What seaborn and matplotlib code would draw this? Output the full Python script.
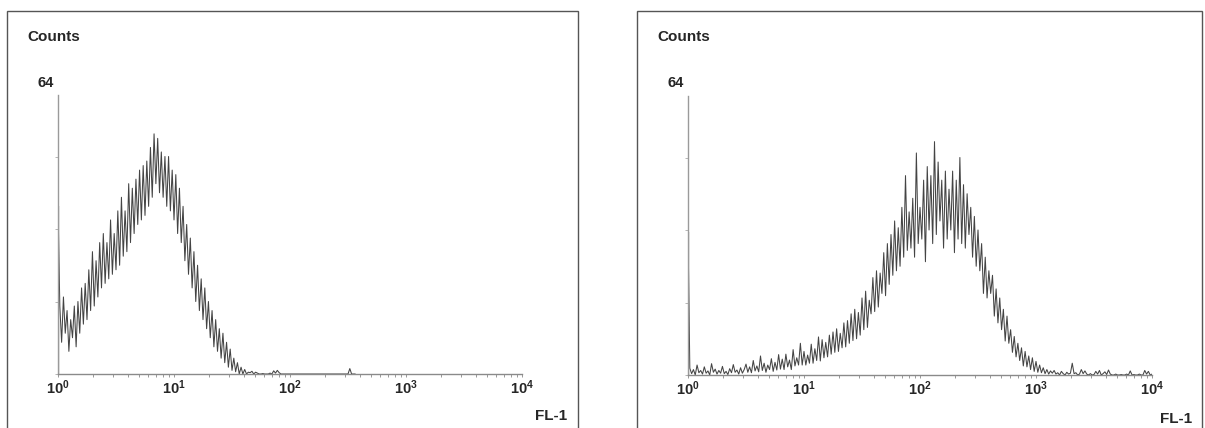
import numpy as np
import matplotlib
matplotlib.use("Agg")
import matplotlib.pyplot as plt
from matplotlib.patches import Rectangle
import seaborn as sns

# ---------------- data (counts per channel, 64 channels per decade, starting at 10^0) ----------------
left_counts = [
    37,
    15, 7, 17, 9, 14, 5, 12, 8, 15, 6, 16, 9,
    19, 11, 20, 12, 23, 14, 27, 15, 25, 17, 29, 19,
    31, 20, 29, 21, 34, 22, 31, 23, 36, 24, 39, 26,
    36, 27, 42, 29, 41, 31, 43, 33, 45, 34, 46, 35,
    47, 37, 50, 39, 53, 42, 52, 40, 49, 39, 48, 37,
    48, 36, 45, 34, 44, 31, 41, 29, 37, 25, 33, 22,
    30, 19, 27, 16, 24, 14, 21, 12, 19, 10, 16, 8,
    14, 6, 12, 5, 10, 3.5, 9, 2.5, 7, 1.5, 5.5, 0.8, 3.5, 0.5, 2.5,
    0, 1.5, 0, 1, 0, 0.4,
    0.3, 0.6, 0, 0.4, 0.2, 0, 0, 0.1, 0, 0, 0, 0.2, 0, 0.7,
    0.2, 0.8, 0.3, 0, 0, 0, 0, 0, 0, 0, 0, 0, 0, 0, 0, 0, 0, 0, 0, 0,
    0, 0, 0, 0, 0, 0, 0, 0, 0, 0, 0, 0, 0, 0, 0, 0, 0, 0, 0, 0,
    0, 1.2, 0, 0, 0,
]

right_counts = [
    31.6,
    1.5, 0.3, 1.2, 0, 2.2, 0.5, 1, 0.2, 1.8, 0.4, 0.9, 0, 2.5, 0.6, 1.3, 0.2, 1, 0.4, 1.9, 0.3,
    0.8, 0.1, 1.4, 0.5, 2.3, 0.6, 1.1, 0.2, 1.6, 0.4, 1.2,
    2.4, 0.6, 1.8, 0.5, 3.2, 0.9, 2, 0.7, 4.2, 1, 2.6, 0.6, 2.2, 1.2, 3.6, 0.8, 2.8, 1.1, 4.5, 1.3,
    3.5, 1.2, 4.6, 1.8, 3.3, 1.2, 5.6, 2, 3.8, 2.2, 7,
    2.2, 5.2, 2.2, 4.4, 2.6,
    6.8, 2.6, 5.8, 3.2, 8.4, 3.1,
    7.8, 3.8, 7.2, 4, 8.8,
    4.6, 9.5, 5, 10.2, 5.2, 9.2,
    6, 11.5, 6.2, 12, 7,
    13.5, 7.6, 14.5, 8, 13.8, 8.8,
    17, 10, 18.5, 10.5, 16.5,
    13.5, 21.5, 14, 23, 15, 22.5,
    18, 27, 17.5, 29, 20,
    31, 22, 34, 23, 32.5, 24,
    37, 26, 44, 27.5, 36,
    28, 39, 26, 49, 29, 37,
    30, 43, 25, 46, 32,
    44, 29, 51.5, 31, 47, 34,
    43, 28, 45, 30, 41,
    32, 45, 27, 43, 30, 48,
    29, 42, 28, 40, 31,
    37, 26, 35, 24, 32, 23,
    29, 18, 26, 17, 23,
    18, 22, 13, 19, 11.5, 17,
    10, 14.5, 7.5, 13, 7,
    10, 5, 8.5, 4, 7, 3.2,
    6, 2, 5.2, 1.8, 4.2,
    1.2, 3.8, 0.8, 3, 0.6, 2.2,
    0.5, 1.6, 0.3, 1.2, 0.2, 0.9, 0.4, 1,
    0.2, 0.5, 0, 0.8, 0.3, 0, 0.6, 0.2, 0.4,
    2.6,
    0.3, 0.5, 0, 0.2, 1.2, 0.3, 0.9, 0.2, 0, 0.3, 0, 0.1,
    0.8, 0.2, 1, 0, 0.3, 0.7, 0.1, 1.1, 0.2, 0,
    0, 0.2, 0, 0, 0.1, 0, 0, 0.2, 0,
    0.9,
    0, 0.1, 0, 0, 0.2, 0, 0,
    1, 0.2, 0.8, 0, 0.2,
]

channels_per_decade = 64
xtick_values = [1, 10, 100, 1000, 10000]
xtick_labels = [r"$\mathbf{10^{0}}$", r"$\mathbf{10^{1}}$", r"$\mathbf{10^{2}}$",
                r"$\mathbf{10^{3}}$", r"$\mathbf{10^{4}}$"]
ytick_values = [0, 16, 32, 48]
y_top_label = "64"
y_title = "Counts"
x_title = "FL-1"

# ---------------- style ----------------
sns.set_style("white")
plt.rcParams["font.family"] = ["Liberation Sans", "DejaVu Sans"]
plt.rcParams["mathtext.fontset"] = "custom"
plt.rcParams["mathtext.bf"] = "Liberation Sans:bold"
plt.rcParams["mathtext.rm"] = "Liberation Sans:bold"

W, H = 1205, 428
fig = plt.figure(figsize=(W / 100, H / 100), dpi=100)
fig.patch.set_facecolor("white")


def fx(px):
    return px / W


def fy(py):
    return 1 - py / H


panels = [
    dict(counts=left_counts, ax_left=58, ax_bottom=374, box=(7, 11, 578),
         counts_xy=(27, 37), top_xy=(37, 83), fl_xy=(535, 416)),
    dict(counts=right_counts, ax_left=688, ax_bottom=375, box=(637, 11, 1202),
         counts_xy=(657, 37), top_xy=(668, 83), fl_xy=(1160, 419)),
]

axis_w = 464
axis_h = 290  # 0..64

for p in panels:
    # frame box (bottom edge off-canvas)
    bx0, by0, bx1 = p["box"]
    rect = Rectangle((fx(bx0), -0.05), fx(bx1) - fx(bx0), fy(by0) + 0.05,
                     transform=fig.transFigure, fill=False, edgecolor="#555555",
                     linewidth=1.0)
    fig.patches.append(rect)

    ax = fig.add_axes([fx(p["ax_left"]), 1 - p["ax_bottom"] / H, axis_w / W, axis_h / H])
    ax.set_facecolor("none")
    counts = np.asarray(p["counts"], dtype=float)
    xs = 10 ** (np.arange(len(counts)) / channels_per_decade)
    sns.lineplot(x=xs, y=counts, ax=ax, color="#444444", linewidth=0.75,
                 estimator=None, sort=False)
    # first-channel pile-up bar
    ax.vlines(xs[0], 0, counts[0], color="#555555", linewidth=1.6)

    ax.set_xscale("log")
    ax.set_xlim(1, 10000)
    ax.set_ylim(0, 64)
    for s in ["top", "right"]:
        ax.spines[s].set_visible(False)
    ax.spines["left"].set_color("#9a9a9a")
    ax.spines["left"].set_linewidth(1.0)
    ax.spines["left"].set_bounds(0, 61.6)
    ax.spines["bottom"].set_color("#8a8a8a")
    ax.spines["bottom"].set_linewidth(1.0)

    ax.set_xticks(xtick_values)
    ax.set_xticklabels(xtick_labels)
    ax.xaxis.set_minor_locator(matplotlib.ticker.LogLocator(base=10, subs=range(2, 10)))
    ax.xaxis.set_minor_formatter(matplotlib.ticker.NullFormatter())
    ax.tick_params(axis="x", which="both", direction="out", length=2.2, width=0.6,
                   color="#888888", pad=1.0, labelsize=10.5, bottom=True)
    ax.set_yticks(ytick_values)
    ax.set_yticklabels([])
    ax.tick_params(axis="y", which="major", direction="out", length=2.2, width=0.6,
                   color="#aaaaaa", left=True)
    ax.set_xlabel("")
    ax.set_ylabel("")
    ax.grid(False)

    fig.text(fx(p["counts_xy"][0]), fy(p["counts_xy"][1]), y_title, ha="left", va="center",
             fontsize=11, fontweight="bold")
    fig.text(fx(p["top_xy"][0]), fy(p["top_xy"][1]), y_top_label, ha="left", va="center",
             fontsize=10.5, fontweight="bold")
    fig.text(fx(p["fl_xy"][0]), fy(p["fl_xy"][1]), x_title, ha="left", va="center",
             fontsize=11, fontweight="bold")

fig.savefig("out.png", dpi=100, facecolor="white")
